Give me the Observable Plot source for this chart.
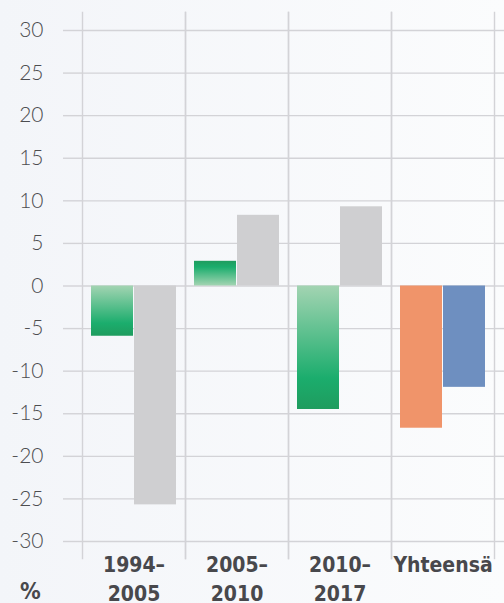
<!DOCTYPE html>
<html><head><meta charset="utf-8">
<script src="https://cdn.jsdelivr.net/npm/d3@7"></script>
<script src="https://cdn.jsdelivr.net/npm/@observablehq/plot@0.6"></script>
<style>
html,body{margin:0;padding:0;}
body{width:504px;height:603px;overflow:hidden;background:linear-gradient(to right,#f3f5f9,#fbfcfd);}
#wrap{position:relative;width:504px;height:603px;}
#wrap svg{position:absolute;left:0;top:0;}
#pct{position:absolute;left:20px;top:578px;font-weight:bold;font-size:23px;font-family:"DejaVu Sans Condensed","DejaVu Sans",sans-serif;font-stretch:condensed;color:#48484c;}
</style></head><body><div id="wrap"><div id="pct">%</div></div>
<script>
const categories = ["1994–\n2005", "2005–\n2010", "2010–\n2017", "Yhteensä"];
const seriesNames = ["A", "B"];
const seriesA = [-5.9, 2.9, -14.5, -16.7];
const seriesB = [-25.7, 8.3, 9.3, -11.9];
const yTicks = [-30, -25, -20, -15, -10, -5, 0, 5, 10, 15, 20, 25, 30];

const gray = "#cfcfd1", orange = "#f0946a", blue = "#6e8fc0";
function fillFor(cat, s, v) {
  if (cat === "Yhteensä") return s === "A" ? orange : blue;
  if (s === "B") return gray;
  return v < 0 ? "url(#gneg)" : "url(#gpos)";
}
const rows = [];
categories.forEach((c, i) => {
  rows.push({cat: c, s: "A", v: seriesA[i], f: fillFor(c, "A", seriesA[i])});
  rows.push({cat: c, s: "B", v: seriesB[i], f: fillFor(c, "B", seriesB[i])});
});

const gridColor = "#d3d3d7";
const chart = Plot.plot({
  width: 504, height: 603,
  marginLeft: 82, marginRight: 10, marginTop: 12, marginBottom: 45,
  style: {background: "transparent", overflow: "visible"},
  fx: {domain: categories, padding: 0, label: null},
  x: {domain: seriesNames, axis: null, paddingInner: 0.023, paddingOuter: 0.2},
  y: {domain: [-30, 30], insetTop: 18, insetBottom: 17, label: null},
  color: {type: "identity"},
  marks: [
    Plot.gridY(yTicks, {stroke: gridColor, strokeOpacity: 1, strokeWidth: 1.4}),
    Plot.frame({anchor: "left", stroke: gridColor, strokeWidth: 1.4}),
    Plot.frame({anchor: "right", stroke: gridColor, strokeWidth: 1.4}),
    Plot.barY(rows, {fx: "cat", x: "s", y: "v", fill: "f"}),
    Plot.axisY(yTicks, {anchor: "left", tickSize: 19, tickPadding: 20, tickFormat: d => String(d),
      stroke: gridColor, strokeWidth: 1.4, fill: "#4d4d50", fontSize: 21, fontWeight: 300,
      fontFamily: "Lato, 'Open Sans', sans-serif", label: null}),
    Plot.axisY(yTicks, {anchor: "right", tickSize: 10, tickFormat: () => "", stroke: gridColor, strokeWidth: 1.4, label: null}),
    Plot.axisFx({anchor: "bottom", tickSize: 0, tickPadding: 0, dy: -7, lineHeight: 1.38, fontSize: 21, fontWeight: "bold",
      fontFamily: "'DejaVu Sans Condensed', 'DejaVu Sans', sans-serif", fill: "#48484c", label: null})
  ]
});

const ns = "http://www.w3.org/2000/svg";
const defs = document.createElementNS(ns, "defs");
function grad(id, y1, y2) {
  const g = document.createElementNS(ns, "linearGradient");
  g.setAttribute("id", id);
  g.setAttribute("x1", 0); g.setAttribute("x2", 0);
  g.setAttribute("y1", y1); g.setAttribute("y2", y2);
  [[0, "#a3d4b2"], [0.75, "#1bad6d"], [1, "#1f9c5e"]].forEach(([o, c]) => {
    const s = document.createElementNS(ns, "stop");
    s.setAttribute("offset", o); s.setAttribute("stop-color", c);
    g.appendChild(s);
  });
  defs.appendChild(g);
}
grad("gneg", 0, 1);
grad("gpos", 1, 0);
chart.insertBefore(defs, chart.firstChild);
chart.querySelectorAll("text").forEach(t => t.style.fontStretch = "condensed");
document.getElementById("wrap").appendChild(chart);
</script>
</body></html>
